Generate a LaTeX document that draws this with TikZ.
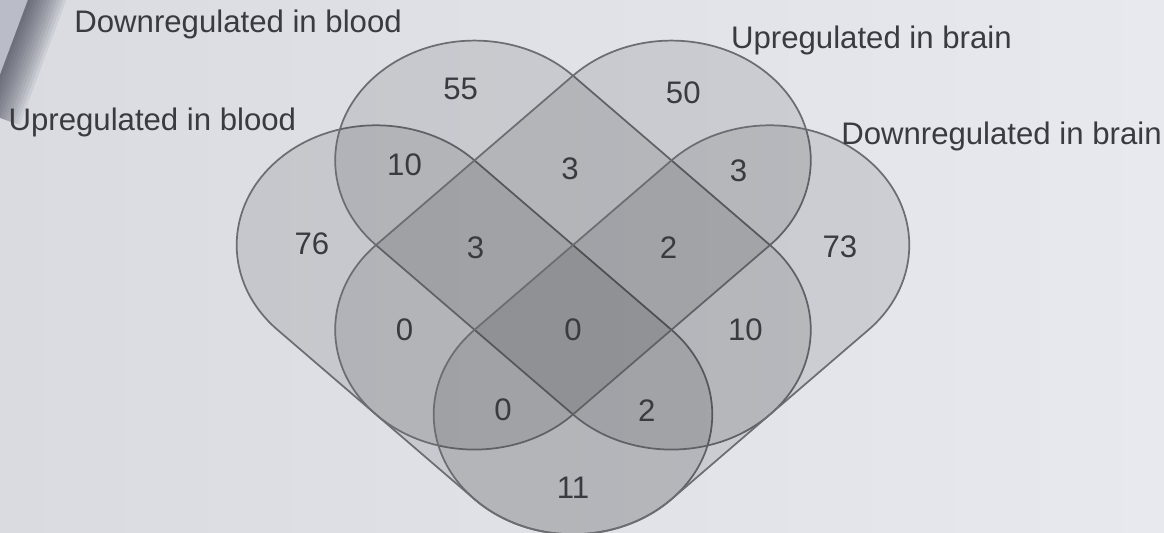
\documentclass[tikz,border=0pt]{standalone}
\usepackage{fontspec}
\setmainfont{Liberation Sans}
\usepackage{tikz}
\definecolor{paper}{RGB}{231,233,238}
\definecolor{paperdark}{RGB}{217,219,225}
\definecolor{pagecorner}{RGB}{186,189,199}
\definecolor{shadow}{RGB}{40,42,60}
\definecolor{edgegray}{RGB}{108,109,115}
\definecolor{ink}{RGB}{58,58,64}

\begin{document}
\begin{tikzpicture}[x=1cm,y=0.86cm,
  vennset/.style={draw=edgegray,line width=0.5pt,fill=black,fill opacity=0.10},
  count/.style={text=ink,font=\fontsize{9}{11}\selectfont},
  setname/.style={text=ink,font=\fontsize{9}{11}\selectfont}]
\useasboundingbox (-5.817,-3.388) rectangle (6.0,2.893);
\shade[left color=paperdark,right color=paper] (-5.817,-3.388) rectangle (6.0,2.893);
% curled page corner
\fill[pagecorner] (-5.391,3.335) -- (-5.959,1.564) -- (-6.5,1.564) -- (-6.5,3.5) -- cycle;
\foreach \w in {3,6,...,36}
  \fill[shadow,opacity=0.07] (-5.391,3.335) -- (-5.959,1.564) -- ++(\w*0.00951,-\w*0.00413) -- ++(0.568,1.771) -- cycle;

% the four sets
\draw[vennset] (-1,1) -- (1,-1) arc (45:-135:1.414) -- (-3,-1) arc (-135:-315:1.414) -- cycle;
\draw[vennset] (0,2) -- (2,0) arc (45:-135:1.414) -- (-2,0) arc (-135:-315:1.414) -- cycle;
\draw[vennset] (0,2) -- (-2,0) arc (135:315:1.414) -- (2,0) arc (-45:135:1.414) -- cycle;
\draw[vennset] (1,1) -- (-1,-1) arc (135:315:1.414) -- (3,-1) arc (-45:135:1.414) -- cycle;

\node[count] (dbonly) at (-1.14,1.84) {55};
\node[count] (ubronly) at (1.12,1.80) {50};
\node[count] (ubdb) at (-1.71,0.95) {10};
\node[count] (dbubr) at (-0.03,0.90) {3};
\node[count] (ubrdbr) at (1.68,0.88) {3};
\node[count] (ubonly) at (-2.65,0.02) {76};
\node[count] (ubdbubr) at (-0.99,-0.03) {3};
\node[count] (dbubrdbr) at (0.97,-0.03) {2};
\node[count] (dbronly) at (2.71,-0.02) {73};
\node[count] (ububr) at (-1.71,-1.00) {0};
\node[count] (all) at (0,-1.00) {0};
\node[count] (dbdbr) at (1.75,-1.00) {10};
\node[count] (ububrdbr) at (-0.71,-1.95) {0};
\node[count] (ubdbdbr) at (0.75,-1.95) {2};
\node[count] (ubdbr) at (0,-2.87) {11};

\node[setname] (downblood) at (-3.40,2.60) {Downregulated in blood};
\node[setname] (upblood) at (-4.27,1.45) {Upregulated in blood};
\node[setname] (upbrain) at (3.03,2.42) {Upregulated in brain};
\node[setname] (downbrain) at (4.35,1.28) {Downregulated in brain};
\end{tikzpicture}
\end{document}
